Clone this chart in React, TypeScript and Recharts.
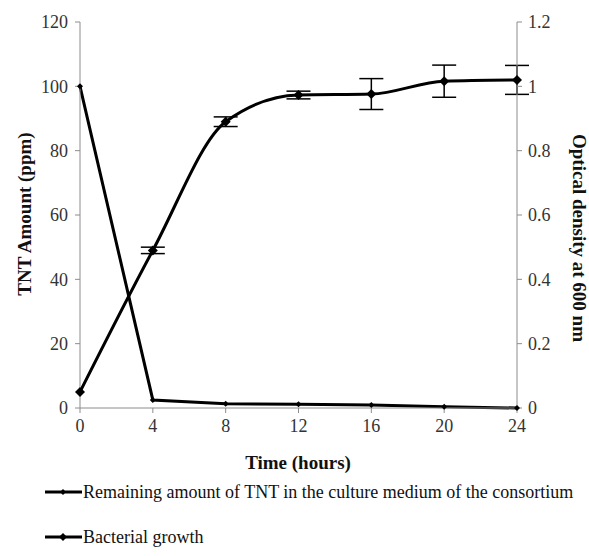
import React from "react";
import {
  LineChart,
  Line,
  XAxis,
  YAxis,
  Legend,
  ErrorBar,
} from "recharts";

// ─── Data ────────────────────────────────────────────────────────────────────
const hours = [0, 4, 8, 12, 16, 20, 24];
const tntPpm = [100, 2.5, 1.3, 1.2, 0.9, 0.4, 0];
const growthOd = [0.05, 0.49, 0.89, 0.973, 0.976, 1.016, 1.02];
const growthErr = [0, 0.01, 0.015, 0.012, 0.048, 0.05, 0.045];

const xTicks = [0, 4, 8, 12, 16, 20, 24];
const leftTicks = [0, 20, 40, 60, 80, 100, 120];
const rightTicks = [0, 0.2, 0.4, 0.6, 0.8, 1, 1.2];

const legendItems = [
  { label: "Remaining amount of TNT in the culture medium of the consortium", r: 3 },
  { label: "Bacterial growth", r: 4 },
];

const data = hours.map((h, i) => ({
  hour: h,
  tnt: tntPpm[i],
  od: growthOd[i],
  odErr: growthErr[i],
}));

const FONT = "Liberation Serif, Times New Roman, serif";
const AXIS = "#8c8c8c";
const tickStyle = { fontSize: 18, fill: "#333", fontFamily: FONT };

// diamond marker, like Excel's default
const diamond = (r: number) => (props: any) => {
  const { cx, cy, index } = props;
  if (cx == null || cy == null) return <g key={index} />;
  return (
    <path
      key={index}
      d={`M${cx},${cy - r}L${cx + r},${cy}L${cx},${cy + r}L${cx - r},${cy}Z`}
      fill="#000"
    />
  );
};

function LegendBox() {
  return (
    <svg width={589} height={78} style={{ display: "block" }}>
      {legendItems.map((it, i) => {
        const y = 14 + i * 45;
        return (
          <g key={it.label}>
            <line x1={45} x2={82} y1={y} y2={y} stroke="#000" strokeWidth={3} />
            <path
              d={`M63,${y - it.r}L${63 + it.r},${y}L63,${y + it.r}L${63 - it.r},${y}Z`}
              fill="#000"
            />
            <text
              x={83}
              y={y}
              dominantBaseline="central"
              style={{ fontFamily: FONT, fontSize: 18 }}
              fill="#111"
            >
              {it.label}
            </text>
          </g>
        );
      })}
    </svg>
  );
}

export default function App() {
  return (
    <div style={{ position: "absolute", left: 0, top: 0, background: "#fff" }}>
      <LineChart
        width={589}
        height={556}
        data={data}
        margin={{ top: 22, right: 0, bottom: 0, left: 0 }}
      >
        <XAxis
          dataKey="hour"
          type="number"
          domain={[0, 24]}
          ticks={xTicks}
          tick={tickStyle}
          tickSize={5}
          tickMargin={6}
          stroke={AXIS}
          height={70}
          label={{
            content: () => (
              <text
                x={298}
                y={462}
                textAnchor="middle"
                dominantBaseline="central"
                style={{ fontFamily: FONT, fontWeight: "bold", fontSize: 19 }}
                fill="#111"
              >
                Time (hours)
              </text>
            ),
          }}
        />
        <YAxis
          yAxisId="left"
          domain={[0, 120]}
          ticks={leftTicks}
          tick={tickStyle}
          tickSize={5}
          tickMargin={7}
          stroke={AXIS}
          width={80}
          label={{
            content: () => (
              <text
                x={24}
                y={214}
                transform="rotate(-90 24 214)"
                textAnchor="middle"
                dominantBaseline="central"
                style={{ fontFamily: FONT, fontWeight: "bold", fontSize: 19 }}
                fill="#111"
              >
                TNT Amount (ppm)
              </text>
            ),
          }}
        />
        <YAxis
          yAxisId="right"
          orientation="right"
          domain={[0, 1.2]}
          ticks={rightTicks}
          tickFormatter={(v: number) => String(v)}
          tick={tickStyle}
          tickSize={5}
          tickMargin={6}
          stroke={AXIS}
          width={72}
          label={{
            content: () => (
              <text
                x={579}
                y={238}
                transform="rotate(90 579 238)"
                textAnchor="middle"
                dominantBaseline="central"
                style={{ fontFamily: FONT, fontWeight: "bold", fontSize: 19 }}
                fill="#111"
              >
                Optical density at 600 nm
              </text>
            ),
          }}
        />
        <Legend
          verticalAlign="bottom"
          align="left"
          height={78}
          content={() => <LegendBox />}
        />
        <Line
          yAxisId="left"
          dataKey="tnt"
          type="linear"
          stroke="#000"
          strokeWidth={3}
          dot={diamond(3)}
          activeDot={false}
          isAnimationActive={false}
        />
        <Line
          yAxisId="right"
          dataKey="od"
          type="monotone"
          stroke="#000"
          strokeWidth={3}
          dot={diamond(5)}
          activeDot={false}
          isAnimationActive={false}
        >
          <ErrorBar dataKey="odErr" width={12} stroke="#000" strokeWidth={1.5} direction="y" />
        </Line>
      </LineChart>
    </div>
  );
}
